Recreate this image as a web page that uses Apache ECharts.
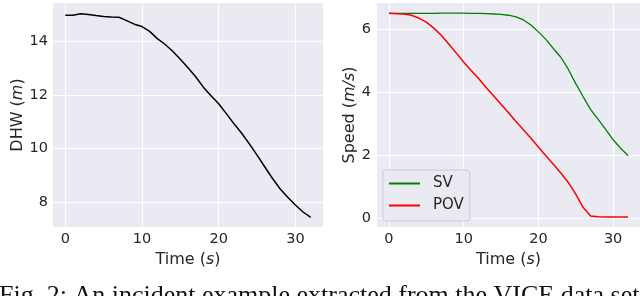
<!DOCTYPE html>
<html>
<head>
<meta charset="utf-8">
<script src="https://cdn.jsdelivr.net/npm/echarts@6/dist/echarts.min.js"></script>
<style>
html,body{margin:0;padding:0;background:#fff;}
#c{width:640px;height:296px;}
</style>
</head>
<body>
<div id="c"></div>
<script>
// Time samples (s)
const time = [0,1,2,3,4,5,6,7,8,9,10,11,12,13,14,15,16,17,18,19,20,21,22,23,24,25,26,27,28,29,30,31,32];
// Distance headway (m)
const dhw = [14.97,14.97,15.03,15.00,14.96,14.93,14.91,14.90,14.77,14.64,14.55,14.37,14.10,13.89,13.63,13.33,13.01,12.68,12.29,11.97,11.67,11.30,10.92,10.57,10.17,9.75,9.32,8.89,8.50,8.18,7.89,7.63,7.43];
// Speeds (m/s)
const sv  = [6.52,6.52,6.52,6.52,6.52,6.52,6.52,6.53,6.53,6.53,6.53,6.52,6.52,6.51,6.50,6.49,6.46,6.41,6.31,6.15,5.93,5.69,5.40,5.12,4.74,4.28,3.86,3.45,3.14,2.82,2.49,2.22,1.99];
const pov = [6.52,6.51,6.50,6.46,6.37,6.24,6.05,5.82,5.54,5.26,4.97,4.70,4.44,4.16,3.89,3.62,3.35,3.07,2.81,2.54,2.26,1.98,1.71,1.43,1.13,0.76,0.33,0.06,0.04,0.03,0.03,0.03,0.03];
// Tick labels
const xTicks = [0,10,20,30];
const dhwTicks = [8,10,12,14];
const speedTicks = [0,2,4,6];
const caption = 'Fig. 2: An incident example extracted from the VICE data set';

const FONT = 'DejaVu Sans';
const TXT = '#262626';
const BG = '#EAEAF2';

function pairs(xs, ys){ return xs.map((x,i)=>[x, ys[i]]); }

function xAxis(gi){
  return {
    type:'value', gridIndex:gi, min:-1.6, max:33.6,
    axisLine:{show:false}, axisTick:{show:false, customValues:xTicks},
    axisLabel:{customValues:xTicks, color:TXT, fontFamily:FONT, fontSize:14.5, margin:5},
    splitLine:{show:true, lineStyle:{color:'#ffffff', width:1}},
    name:'Time ({i|s})', nameLocation:'middle', nameGap:21,
    nameTextStyle:{color:TXT, fontFamily:FONT, fontSize:16, rich:{i:{fontStyle:'italic', fontFamily:FONT, fontSize:16, color:TXT}}}
  };
}
function yAxis(gi, min, max, ticks, name, gap, margin){
  return {
    type:'value', gridIndex:gi, min:min, max:max,
    axisLine:{show:false}, axisTick:{show:false, customValues:ticks},
    axisLabel:{customValues:ticks, color:TXT, fontFamily:FONT, fontSize:14.5, margin:margin},
    splitLine:{show:true, lineStyle:{color:'#ffffff', width:1}},
    name:name, nameLocation:'middle', nameGap:gap, nameRotate:90,
    nameTextStyle:{color:TXT, fontFamily:FONT, fontSize:16, rich:{i:{fontStyle:'italic', fontFamily:FONT, fontSize:16, color:TXT}}}
  };
}

const chart = echarts.init(document.getElementById('c'), null, {renderer:'canvas'});
chart.setOption({
  animation:false,
  backgroundColor:'#ffffff',
  grid:[
    {left:53, top:3, width:270, height:224, show:true, backgroundColor:BG, borderWidth:0, containLabel:false},
    {left:377, top:3, width:267, height:224, show:true, backgroundColor:BG, borderWidth:0, containLabel:false}
  ],
  xAxis:[xAxis(0), xAxis(1)],
  yAxis:[
    yAxis(0, 7.07, 15.43, dhwTicks, 'DHW ({i|m})', 27, 5),
    yAxis(1, -0.29, 6.85, speedTicks, 'Speed ({i|m/s})', 19, 6)
  ],
  legend:{
    data:['SV','POV'], orient:'vertical', left:383, top:170,
    icon:'rect', itemWidth:31, itemHeight:2, itemGap:7,
    padding:[6,6,8,6],
    backgroundColor:BG, borderColor:'#cccccc', borderWidth:1, borderRadius:3,
    textStyle:{color:TXT, fontFamily:FONT, fontSize:15, lineHeight:14, padding:[0,0,0,8]}
  },
  graphic:[
    {type:'text', left:-1, top:283, silent:true,
     style:{text:caption, font:'26px "Liberation Serif"', fill:'#111111'}}
  ],
  series:[
    {type:'line', name:'DHW', xAxisIndex:0, yAxisIndex:0, data:pairs(time,dhw), showSymbol:false, symbol:'none',
     lineStyle:{color:'#000000', width:1.5}, itemStyle:{color:'#000000'}},
    {type:'line', name:'SV', xAxisIndex:1, yAxisIndex:1, data:pairs(time,sv), showSymbol:false, symbol:'none',
     lineStyle:{color:'#008000', width:1.3}, itemStyle:{color:'#008000'}},
    {type:'line', name:'POV', xAxisIndex:1, yAxisIndex:1, data:pairs(time,pov), showSymbol:false, symbol:'none',
     lineStyle:{color:'#ff0000', width:1.5}, itemStyle:{color:'#ff0000'}}
  ]
});
</script>
</body>
</html>
